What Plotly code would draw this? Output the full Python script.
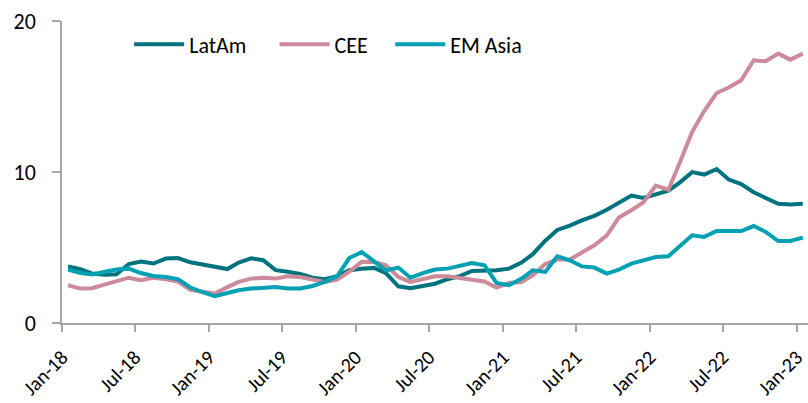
import pandas as pd
import plotly.graph_objects as go

# Monthly data, Jan-18 .. Jan-23 (61 months)
start_month = "2018-01-01"
n_months = 61

latam = [3.74, 3.57, 3.28, 3.19, 3.23, 3.90, 4.07, 3.94, 4.27, 4.30,
         4.02, 3.87, 3.75, 3.57, 4.00, 4.28, 4.16, 3.50, 3.40, 3.25,
         3.00, 2.90, 3.10, 3.50, 3.60, 3.65, 3.30, 2.43, 2.30, 2.45,
         2.60, 2.90, 3.10, 3.45, 3.48, 3.50, 3.60, 4.00, 4.56, 5.45,
         6.16, 6.45, 6.80, 7.10, 7.50, 8.00, 8.44, 8.28, 8.50, 8.77,
         9.30, 9.99, 9.83, 10.20, 9.50, 9.20, 8.66, 8.28, 7.89, 7.85,
         7.89]

cee = [2.50, 2.28, 2.30, 2.54, 2.75, 3.00, 2.83, 3.00, 2.90, 2.75,
       2.20, 2.05, 1.95, 2.38, 2.72, 2.94, 3.00, 2.94, 3.10, 3.05,
       2.85, 2.72, 2.87, 3.40, 4.05, 4.04, 3.82, 3.05, 2.72, 2.94,
       3.10, 3.10, 3.00, 2.90, 2.75, 2.34, 2.65, 2.72, 3.16, 3.90,
       4.20, 4.20, 4.70, 5.15, 5.80, 6.98, 7.46, 8.00, 9.10, 8.83,
       10.60, 12.65, 14.04, 15.23, 15.59, 16.07, 17.40, 17.33, 17.84, 17.44,
       17.84]

em_asia = [3.54, 3.31, 3.22, 3.38, 3.54, 3.60, 3.31, 3.11, 3.05, 2.90,
           2.35, 2.05, 1.77, 1.99, 2.17, 2.28, 2.34, 2.38, 2.28, 2.28,
           2.45, 2.72, 3.10, 4.30, 4.70, 4.04, 3.49, 3.67, 3.00, 3.30,
           3.54, 3.60, 3.82, 3.97, 3.82, 2.65, 2.50, 2.94, 3.49, 3.38,
           4.42, 4.15, 3.75, 3.67, 3.27, 3.54, 3.93, 4.15, 4.37, 4.42,
           5.10, 5.81, 5.70, 6.09, 6.09, 6.09, 6.42, 6.03, 5.43, 5.43,
           5.65]

series_names = ["LatAm", "CEE", "EM Asia"]
series_colors = ["#00737e", "#cc8a9b", "#00a1b3"]
legend_ids = ["legend", "legend2", "legend3"]
legend_x = [0.090, 0.285, 0.440]
y_ticks = [0, 10, 20]

# points sit in the middle of each month
dates = pd.date_range(start_month, periods=n_months, freq="MS") + pd.Timedelta(days=15)

FONT = "Calibri, Carlito, Lato, sans-serif"

fig = go.Figure()
for name, vals, col, lg in zip(series_names, [latam, cee, em_asia], series_colors, legend_ids):
    fig.add_trace(go.Scatter(x=dates, y=vals, mode="lines", name=name, legend=lg,
                             line=dict(color=col, width=4)))

legend_common = dict(orientation="h", y=0.922, xanchor="left", yanchor="middle",
                     bgcolor="rgba(0,0,0,0)", font=dict(size=22), itemwidth=50)

fig.update_layout(
    width=808, height=403,
    margin=dict(l=62, r=0, t=21, b=80, autoexpand=False),
    paper_bgcolor="white", plot_bgcolor="white",
    font=dict(family=FONT, size=21, color="#000000"),
    legend=dict(x=legend_x[0], **legend_common),
    legend2=dict(x=legend_x[1], **legend_common),
    legend3=dict(x=legend_x[2], **legend_common),
    showlegend=True,
)
fig.update_xaxes(
    type="date", range=["2018-01-01", "2023-01-29"],
    tick0="2018-01-01", dtick="M6", tickformat="%b-%y",
    tickangle=-45, ticks="outside", ticklen=7, tickcolor="#a6a6a6", tickwidth=1.5,
    showline=True, linecolor="#a6a6a6", linewidth=1.5, automargin=False,
    showgrid=False, zeroline=False, tickfont=dict(size=20),
    ticklabelstandoff=6,
)
fig.update_yaxes(
    range=[0, 20], tickvals=y_ticks, automargin=False,
    ticks="outside", ticklen=8, tickcolor="#a6a6a6", tickwidth=1.5,
    showline=True, linecolor="#a6a6a6", linewidth=1.5,
    showgrid=False, zeroline=False, tickfont=dict(size=22),
    ticklabelstandoff=12,
)
fig.write_html("out.html", config={"displayModeBar": False},
               post_script="document.body.style.margin='0';")
